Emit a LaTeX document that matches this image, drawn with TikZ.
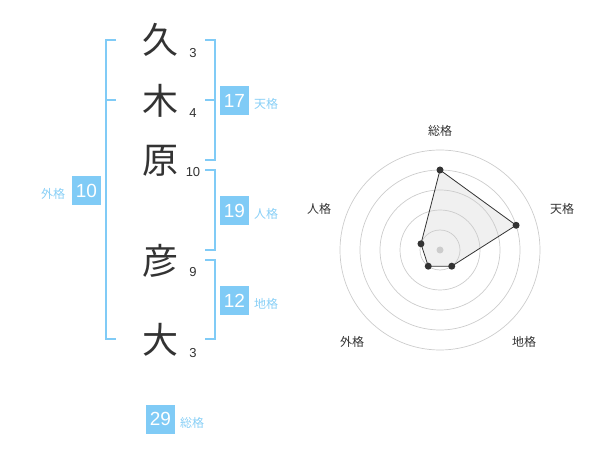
\documentclass[tikz,border=0pt]{standalone}
\usepackage{fontspec}
\usetikzlibrary{calc}
\setmainfont{Liberation Sans}
\newfontfamily\jp{Noto Sans CJK JP}
\definecolor{bl}{HTML}{80CBF6}
\definecolor{bllab}{HTML}{88CFF6}
\definecolor{ink}{HTML}{333333}
\definecolor{ring}{HTML}{CCCCCC}
\definecolor{polyfill}{HTML}{F0F0F0}
\begin{document}
\begin{tikzpicture}[x=1pt,y=-1pt,
  kanji/.style={font=\jp\fontsize{36}{36}\selectfont, text=ink, inner sep=0pt},
  strokes/.style={font=\fontsize{13}{13}\selectfont, text=ink, inner sep=0pt},
  numbox/.style={fill=bl, text=white, minimum width=29pt, minimum height=29pt, inner sep=0pt, font=\fontsize{19}{19}\selectfont},
  lab/.style={font=\jp\fontsize{12}{12}\selectfont, text=bllab, inner sep=0pt},
  brk/.style={draw=bl, line width=2pt},
  rlab/.style={font=\jp\fontsize{12}{12}\selectfont, text=ink, inner sep=0pt},
  dot/.style={circle, fill=ink, inner sep=0pt, minimum size=7pt}
]
\useasboundingbox (0,0) rectangle (600,470);

% characters
\node[kanji] (c1) at (160,40) {久};
\node[kanji] (c2) at (160,101) {木};
\node[kanji] (c3) at (160,161) {原};
\node[kanji] (c4) at (160,261) {彦};
\node[kanji] (c5) at (160,340) {大};

% stroke counts
\node[strokes] (s1) at (193,53) {3};
\node[strokes] (s2) at (193,113) {4};
\node[strokes] (s3) at (193,172) {10};
\node[strokes] (s4) at (193,272) {9};
\node[strokes] (s5) at (193,353) {3};

% left bracket (外格)
\draw[brk] (116,40) -- (106,40) -- (106,339.5) -- (116,339.5);
\draw[brk] (106,100) -- (116,100);
\node[numbox] (b10) at (86.5,190.5) {10};
\node[lab] (l10) at (53,194) {外格};

% 天格 bracket
\draw[brk] (205,40) -- (214.5,40) -- (214.5,160) -- (205,160);
\draw[brk] (205,100) -- (214.5,100);
\node[numbox] (b17) at (234.5,100.5) {17};
\node[lab] (l17) at (266,104) {天格};

% 人格 bracket
\draw[brk] (205,170) -- (214.5,170) -- (214.5,250) -- (205,250);
\node[numbox] (b19) at (234.5,210.5) {19};
\node[lab] (l19) at (266,214) {人格};

% 地格 bracket
\draw[brk] (205,260) -- (214.5,260) -- (214.5,339.5) -- (205,339.5);
\node[numbox] (b12) at (234.5,300.5) {12};
\node[lab] (l12) at (266,304) {地格};

% 総格
\node[numbox] (b29) at (160.5,419) {29};
\node[lab] (l29) at (192,423) {総格};

% radar chart
\coordinate (rc) at (440,250);
\coordinate (p1) at ($(rc)+(-90:80)$);
\coordinate (p2) at ($(rc)+(-18:80)$);
\coordinate (p3) at ($(rc)+(54:20)$);
\coordinate (p4) at ($(rc)+(126:20)$);
\coordinate (p5) at ($(rc)+(198:20)$);
\fill[polyfill] (p1) -- (p2) -- (p3) -- (p4) -- (p5) -- cycle;
\foreach \r in {20,40,60,80,100}
  \draw[ring, line width=0.7pt] (rc) circle[radius=\r];
\fill[ring] (rc) circle[radius=3.5];
\draw[draw=ink, line width=0.8pt] (p1) -- (p2) -- (p3) -- (p4) -- (p5) -- cycle;
\foreach \p in {p1,p2,p3,p4,p5}
  \node[dot] at (\p) {};
\node[rlab] (r1) at (440,131) {総格};
\node[rlab] (r2) at (562,209) {天格};
\node[rlab] (r3) at (524,342) {地格};
\node[rlab] (r4) at (352,342) {外格};
\node[rlab] (r5) at (319,209) {人格};
\end{tikzpicture}
\end{document}
